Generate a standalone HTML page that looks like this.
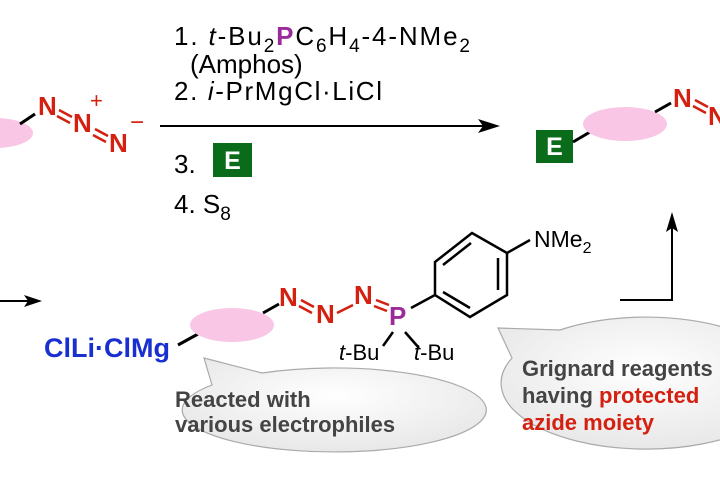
<!DOCTYPE html>
<html><head><style>body{margin:0;background:#fff}svg{display:block}</style></head><body>
<svg width="720" height="480" viewBox="0 0 720 480" xmlns="http://www.w3.org/2000/svg" font-family="Liberation Sans, Arial, sans-serif">
<defs>
<radialGradient id="g" cx="50%" cy="40%" r="60%"><stop offset="0" stop-color="#ffffff"/><stop offset="1" stop-color="#e8e8e8"/></radialGradient>
</defs>
<ellipse cx="-5" cy="133" rx="38" ry="15" fill="#f9c6e6"/>
<line x1="20" y1="124" x2="35" y2="114" stroke="#000" stroke-width="3"/>
<g fill="#d42010" font-weight="bold" font-size="26">
<text x="38" y="115">N</text><text x="73" y="132">N</text><text x="109" y="152">N</text>
<text x="90" y="108" font-size="22" font-weight="normal">+</text>
<text x="130" y="130" font-size="24" font-weight="normal">−</text>
</g>
<g stroke="#d42010" stroke-width="2.5">
<line x1="59" y1="110" x2="72" y2="117"/><line x1="57" y1="116" x2="70" y2="123"/>
<line x1="95" y1="129" x2="108" y2="136"/><line x1="93" y1="135" x2="106" y2="142"/>
</g>
<line x1="160" y1="126" x2="485" y2="126" stroke="#000" stroke-width="2"/>
<polygon points="500,126 478,119 483,126 478,133" fill="#000"/>
<g font-size="26" fill="#000">
<text x="174" y="45" textLength="296" lengthAdjust="spacing">1. <tspan font-style="italic">t</tspan>-Bu<tspan font-size="19" dy="7">2</tspan><tspan dy="-7" fill="#9b2a9b" font-weight="bold">P</tspan>C<tspan font-size="19" dy="7">6</tspan><tspan dy="-7">H</tspan><tspan font-size="19" dy="7">4</tspan><tspan dy="-7">-4-NMe</tspan><tspan font-size="19" dy="7">2</tspan></text>
<text x="190" y="73">(Amphos)</text>
<text x="174" y="100" textLength="208" lengthAdjust="spacing">2. <tspan font-style="italic">i</tspan>-PrMgCl·LiCl</text>
<text x="174" y="173">3.</text>
<text x="174" y="213">4. S<tspan font-size="19" dy="7">8</tspan></text>
</g>
<rect x="213" y="143" width="39" height="34" fill="#0a6b1a"/>
<text x="232.5" y="169" fill="#fff" font-weight="bold" font-size="25" text-anchor="middle">E</text>
<rect x="536" y="130" width="37" height="33" fill="#0a6b1a"/>
<text x="554.5" y="155" fill="#fff" font-weight="bold" font-size="25" text-anchor="middle">E</text>
<line x1="573" y1="142" x2="590" y2="132" stroke="#000" stroke-width="3"/>
<ellipse cx="625" cy="124" rx="42" ry="17" fill="#f9c6e6"/>
<line x1="655" y1="112" x2="671" y2="103" stroke="#000" stroke-width="3"/>
<text x="673" y="107" fill="#d42010" font-weight="bold" font-size="26">N</text>
<g stroke="#d42010" stroke-width="2.5"><line x1="695" y1="100" x2="708" y2="107"/><line x1="693" y1="106" x2="706" y2="113"/></g>
<text x="708" y="125" fill="#d42010" font-weight="bold" font-size="26">N</text>
<line x1="0" y1="301" x2="30" y2="301" stroke="#000" stroke-width="2"/>
<polygon points="42,301 24,295 28,301 24,307" fill="#000"/>
<g fill="url(#g)" stroke="#aaa" stroke-width="1.2">
<path d="M204,358 L262,373 A152,42 0 1 1 212,385 Z"/>
<path d="M498,328 L560,330 A145,66 0 1 1 512,358 Z"/>
</g>
<text x="44" y="357" fill="#1a2fd0" font-weight="bold" font-size="27">ClLi·ClMg</text>
<line x1="178" y1="345" x2="198" y2="334" stroke="#000" stroke-width="3"/>
<ellipse cx="232" cy="325" rx="42" ry="17" fill="#f9c6e6"/>
<line x1="263" y1="313" x2="279" y2="304" stroke="#000" stroke-width="3"/>
<g fill="#d42010" font-weight="bold" font-size="26">
<text x="279" y="306">N</text><text x="316" y="323">N</text><text x="354" y="304">N</text>
</g>
<g stroke="#d42010" stroke-width="2.5">
<line x1="301" y1="300" x2="314" y2="307"/><line x1="299" y1="306" x2="312" y2="313"/>
<line x1="337" y1="313" x2="353" y2="305"/>
<line x1="376" y1="300" x2="389" y2="305"/><line x1="374" y1="306" x2="387" y2="311"/>
</g>
<text x="389" y="325" fill="#9b2a9b" font-weight="bold" font-size="26">P</text>
<g stroke="#000" stroke-width="2.5" fill="none">
<line x1="411" y1="308" x2="435" y2="295"/>
<polygon points="435,295 435,262 472,233 507,253 507,295 470,317"/>
<line x1="443" y1="265" x2="471" y2="243"/><line x1="498" y1="258" x2="498" y2="290"/>
<line x1="443" y1="292" x2="470" y2="308"/>
<line x1="507" y1="253" x2="530" y2="240"/>
<line x1="393" y1="332" x2="383" y2="346"/><line x1="405" y1="332" x2="419" y2="348"/>
</g>
<text x="534" y="247" font-size="23">NMe<tspan font-size="16" dy="6">2</tspan></text>
<text x="339" y="360" font-size="22"><tspan font-style="italic">t</tspan>-Bu</text>
<text x="414" y="360" font-size="22"><tspan font-style="italic">t</tspan>-Bu</text>
<polyline points="620,300 672,300 672,228" fill="none" stroke="#000" stroke-width="2"/>
<polygon points="672,212 666,232 672,228 678,232" fill="#000"/>
<g font-weight="bold" font-size="22" fill="#444">
<text x="175" y="407">Reacted with</text>
<text x="175" y="432">various electrophiles</text>
<text x="522" y="376">Grignard reagents</text>
<text x="522" y="403">having <tspan fill="#d42010">protected</tspan></text>
<text x="522" y="430" fill="#d42010">azide moiety</text>
</g>
</svg>
</body></html>
